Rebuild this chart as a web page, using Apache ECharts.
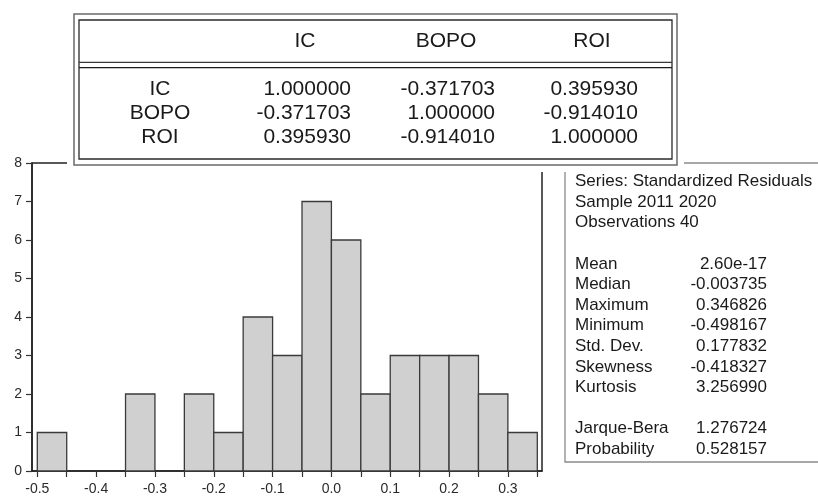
<!DOCTYPE html>
<html>
<head>
<meta charset="utf-8">
<title>Residual histogram</title>
<script src="https://cdn.jsdelivr.net/npm/echarts@6/dist/echarts.min.js"></script>
<style>
  html, body { margin: 0; padding: 0; background: #fff; }
  #main { width: 818px; height: 496px; }
</style>
</head>
<body>
<div id="main"></div>
<script>
// histogram bins (left edge of each 0.05 wide bin) and counts
var binWidth = 0.05;
var binStarts = [-0.5, -0.45, -0.4, -0.35, -0.3, -0.25, -0.2, -0.15, -0.1, -0.05, 0, 0.05, 0.1, 0.15, 0.2, 0.25, 0.3];
var counts    = [1, 0, 0, 2, 0, 2, 1, 4, 3, 7, 6, 2, 3, 3, 3, 2, 1];
var xTickLabels = [-0.5, -0.4, -0.3, -0.2, -0.1, 0, 0.1, 0.2, 0.3];

// correlation table
var corrNames = ['IC', 'BOPO', 'ROI'];
var corrIC   = ['1.000000', '-0.371703', '0.395930'];
var corrBOPO = ['-0.371703', '1.000000', '-0.914010'];
var corrROI  = ['0.395930', '-0.914010', '1.000000'];

// descriptive stats box
var statHeader = ['Series: Standardized Residuals', 'Sample 2011 2020', 'Observations 40'];
var statLabels = ['Mean', 'Median', 'Maximum', 'Minimum', 'Std. Dev.', 'Skewness', 'Kurtosis', '', 'Jarque-Bera', 'Probability'];
var statValues = ['2.60e-17', '-0.003735', '0.346826', '-0.498167', '0.177832', '-0.418327', '3.256990', '', '1.276724', '0.528157'];

var chart = echarts.init(document.getElementById('main'));

var binEdges = binStarts.concat([binStarts[binStarts.length - 1] + binWidth]);
var histData = binStarts.map(function (s, i) { return [s, counts[i]]; });

function renderBin(params, api) {
    var n = api.value(1);
    if (!n) return null;
    var x0 = api.value(0);
    var p0 = api.coord([x0, n]);
    var p1 = api.coord([x0 + binWidth, 0]);
    return {
        type: 'rect',
        shape: { x: p0[0], y: p0[1], width: p1[0] - p0[0], height: p1[1] - p0[1] },
        style: { fill: '#d0d0d0', stroke: '#3a3a3a', lineWidth: 1.3 }
    };
}

var FONT = '"Liberation Sans", Arial, sans-serif';

function txt(s, x, y, size, align) {
    return {
        type: 'text', x: x, y: y, z: 110,
        style: {
            text: s, font: size + 'px ' + FONT, fill: '#1a1a1a',
            align: align, textAlign: align,
            verticalAlign: 'middle', textVerticalAlign: 'middle'
        }
    };
}

var graphics = [];

// stats box (sits under the table's white margin)
graphics.push({
    type: 'rect', z: 100,
    shape: { x: 565, y: 163, width: 270, height: 299 },
    style: { fill: '#fff', stroke: '#8a8a8a', lineWidth: 1.3 }
});
statHeader.forEach(function (s, i) {
    graphics.push(txt(s, 575, 181.5 + i * 20.6, 17, 'left'));
});
statLabels.forEach(function (s, i) {
    if (!s) return;
    var y = 181.5 + (i + 4) * 20.6;
    graphics.push(txt(s, 575, y, 17, 'left'));
    graphics.push(txt(statValues[i], 767, y, 17, 'right'));
});

// correlation table with white margin round it
graphics.push({ type: 'rect', z: 120, shape: { x: 67, y: 6, width: 617, height: 166 }, style: { fill: '#fff' } });
graphics.push({ type: 'rect', z: 121, shape: { x: 74, y: 14, width: 603, height: 151 }, style: { fill: 'none', stroke: '#6a6a6a', lineWidth: 1.5 } });
graphics.push({ type: 'rect', z: 121, shape: { x: 79, y: 20, width: 593, height: 139 }, style: { fill: 'none', stroke: '#2a2a2a', lineWidth: 1.3 } });
graphics.push({ type: 'line', z: 121, shape: { x1: 79, y1: 62.3, x2: 672, y2: 62.3 }, style: { stroke: '#3a3a3a', lineWidth: 1.3 } });
graphics.push({ type: 'line', z: 121, shape: { x1: 79, y1: 67.7, x2: 672, y2: 67.7 }, style: { stroke: '#1a1a1a', lineWidth: 1.3 } });

var headX = [305, 446, 592];
var colRight = [351, 495, 638];
var rowY = [89, 113, 137];
corrNames.forEach(function (nm, i) {
    var t = txt(nm, headX[i], 41.7, 21, 'center'); t.z = 130; graphics.push(t);
});
[corrIC, corrBOPO, corrROI].forEach(function (row, r) {
    var l = txt(corrNames[r], 160, rowY[r], 21, 'center'); l.z = 130; graphics.push(l);
    row.forEach(function (v, c) {
        var t = txt(v, colRight[c], rowY[r], 21, 'right'); t.z = 130; graphics.push(t);
    });
});

var option = {
    animation: false,
    backgroundColor: '#fff',
    grid: {
        left: 32, right: 276, top: 163, bottom: 25,
        show: true, borderColor: '#222', borderWidth: 1.5, backgroundColor: 'transparent'
    },
    xAxis: {
        type: 'value',
        min: -0.509, max: 0.358,
        axisLine: { show: true, onZero: false, lineStyle: { color: '#222', width: 1.5 } },
        axisTick: { show: true, length: 6, customValues: binEdges, lineStyle: { color: '#333', width: 1.2 } },
        axisLabel: {
            customValues: xTickLabels, margin: 11,
            color: '#2a2a2a', fontSize: 14, fontFamily: FONT,
            formatter: function (v) { return v.toFixed(1); }
        },
        splitLine: { show: false }
    },
    yAxis: {
        type: 'value',
        min: 0, max: 8, interval: 1,
        axisLine: { show: true, onZero: false, lineStyle: { color: '#222', width: 1.5 } },
        axisTick: { show: true, length: 6, lineStyle: { color: '#333', width: 1.2 } },
        axisLabel: { color: '#2a2a2a', fontSize: 14, fontFamily: FONT, margin: 10 },
        splitLine: { show: false }
    },
    series: [{
        type: 'custom',
        renderItem: renderBin,
        encode: { x: 0, y: 1 },
        data: histData,
        z: 2
    }],
    graphic: { elements: graphics }
};

option && chart.setOption(option);
</script>
</body>
</html>
